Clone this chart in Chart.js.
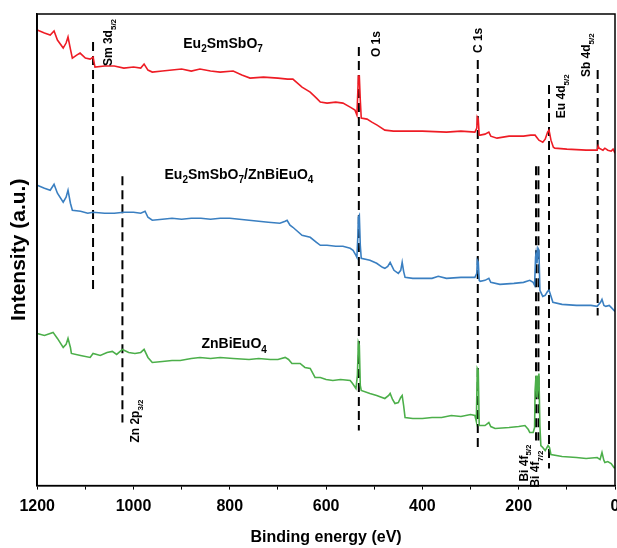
<!DOCTYPE html>
<html>
<head>
<meta charset="utf-8">
<script src="https://cdn.jsdelivr.net/npm/chart.js@4.4.0/dist/chart.umd.min.js"></script>
<style>
  html, body { margin: 0; padding: 0; background: #fff; overflow: hidden; }
</style>
</head>
<body>
<canvas id="xps" width="632" height="548"></canvas>
<script>
// survey spectra, binding energy (eV) against intensity (a.u., stacked offsets)
const redEnergy = [1200,1185,1173,1165,1158,1146,1140,1136,1131,1127,1118,1111,1100,1090,1084,1080,1060,1040,1020,1000,985,978,970,961,940,920,900,880,862,840,820,793,775,758,730,700,680,669,650,633,620,612,598,580,565,550,540,536,534,533,531,529,527,515,505,494,478,460,440,400,350,320,291,287,286,284,282,280,270,262,258,245,220,190,175,166,158,150,145,140,137,133,128,125,100,60,37,35,33,25,21,15,8,4,0];
const redIntensity = [455,452,450,454,445,437,442,448,436,427,430,432,427,426,428,418,419,419,417,418,417,421,415,413,414,415,416,414,416,414,413,414,410,407,408,407,406,406,398,393,387,383,382,383,382,378,375,370,395,409,409,385,367,366,363,360,355,354,354,354,353,354,353,357,368,366,350,350,351,353,349,347,349,349,350,350,345,343,346,353,355,345,338,337,336,335,335,339,337,335,337,335,334,336,332];

const blueEnergy = [1200,1185,1173,1165,1158,1146,1140,1136,1131,1127,1110,1095,1084,1060,1040,1020,1000,985,976,970,961,940,920,900,880,860,840,820,800,780,760,740,720,696,685,681,675,669,650,633,620,612,598,580,565,550,544,538,536,534,533,531,529,527,509,495,483,478,472,467,463,459,450,445,442,439,436,420,400,380,367,350,320,291,287,286,284,282,280,270,262,258,239,210,190,177,170,167,165,164,162,160,158,156,150,145,140,137,133,129,110,80,50,37,30,27,23,19,12,8,0];
const blueIntensity = [300,297,295,301,292,283,288,295,282,275,274,272,273,272,272,273,273,272,274,268,265,266,267,266,267,267,266,267,267,266,265,264,263,262,264,265,260,258,250,248,243,240,240,239,239,237,235,230,228,250,268,270,240,227,225,222,218,217,219,223,219,215,212,215,223,214,208,207,207,207,209,207,208,208,212,225,223,205,204,205,207,203,201,202,203,205,203,200,228,232,222,237,235,195,189,190,194,195,189,183,181,180,180,179,183,186,180,179,180,178,174];

const greenEnergy = [1200,1185,1167,1158,1146,1140,1136,1131,1129,1110,1090,1084,1069,1055,1044,1035,1023,1010,997,985,978,970,961,940,920,903,880,862,840,820,793,760,740,716,700,685,678,671,654,644,633,623,612,600,586,570,550,545,538,535,533,531,529,527,509,495,478,470,467,462,457,450,445,442,439,436,420,400,380,360,340,320,300,291,288,286,284,282,270,262,258,249,220,200,187,180,177,170,167,166,164,162,160,158,156,154,150,145,139,136,133,110,80,60,37,31,27,23,21,15,8,2,0];
const greenIntensity = [152,150,153,147,138,141,147,138,132,130,128,132,130,133,134,131,136,133,132,133,136,128,123,124,125,125,127,128,127,128,127,126,127,126,126,128,126,122,122,118,117,108,108,106,105,106,105,102,97,110,143,140,100,95,92,90,87,90,92,86,82,83,88,90,80,68,67,67,68,68,70,69,71,70,64,117,115,60,60,63,59,57,58,59,60,56,53,53,58,95,110,88,100,112,60,40,38,35,40,38,31,29,28,27,28,26,33,25,23,24,22,18,18];

// reference lines for the assigned core levels
const markerEnergy = [1084, 1023, 532, 285, 164, 159, 137, 36];
const markerTop    = [443, 309, 438, 425, 319, 319, 400, 415];
const markerBottom = [195, 63, 55, 38, 45, 45, 17, 170];

const seriesColors = ['#ee1c25', '#3a7fc1', '#4caf4a'];
const xTickLabels = [1200, 1000, 800, 600, 400, 200, 0];

// text placed in data coordinates: [text, energy, intensity]
const peakLabels = [
  ['Sm 3d_{5/2}', 1044, 419],
  ['O 1s', 488, 428],
  ['C 1s', 276, 432],
  ['Eu 4d_{5/2}', 104, 367],
  ['Sb 4d_{5/2}', 52, 408],
  ['Zn 2p_{3/2}', 988, 43],
  ['Bi 4f_{5/2}', 181, 4],
  ['Bi 4f_{7/2}', 158, -2]
];
const sampleLabels = [
  ['Eu_{2}SmSbO_{7}', 814, 437],
  ['Eu_{2}SmSbO_{7}/ZnBiEuO_{4}', 781, 306],
  ['ZnBiEuO_{4}', 791, 137]
];

const FONT = 'Arial, "Liberation Sans", sans-serif';

function toPoints(xs, ys) {
  return xs.map((v, i) => ({ x: v, y: ys[i] }));
}

function splitRich(text) {
  const parts = [];
  const re = /_\{([^}]*)\}/g;
  let last = 0, m;
  while ((m = re.exec(text)) !== null) {
    if (m.index > last) parts.push([text.slice(last, m.index), false]);
    parts.push([m[1], true]);
    last = re.lastIndex;
  }
  if (last < text.length) parts.push([text.slice(last), false]);
  return parts;
}

function richWidth(ctx, parts, size) {
  let w = 0;
  parts.forEach(([t, sub]) => {
    ctx.font = 'bold ' + (sub ? Math.round(size * 0.7) : size) + 'px ' + FONT;
    w += ctx.measureText(t).width;
  });
  return w;
}

function drawRich(ctx, parts, x0, size) {
  let x = x0;
  parts.forEach(([t, sub]) => {
    ctx.font = 'bold ' + (sub ? Math.round(size * 0.7) : size) + 'px ' + FONT;
    ctx.fillText(t, x, sub ? size * 0.3 : 0);
    x += ctx.measureText(t).width;
  });
}

const xpsText = {
  id: 'xpsText',
  afterDraw(chart) {
    const { ctx, chartArea, scales } = chart;
    ctx.save();
    ctx.strokeStyle = '#000';
    ctx.lineWidth = 1.5;
    ctx.strokeRect(chartArea.left, chartArea.top, chartArea.right - chartArea.left, chartArea.bottom - chartArea.top);

    ctx.fillStyle = '#000';
    ctx.textAlign = 'left';
    ctx.textBaseline = 'alphabetic';

    peakLabels.forEach(([t, e, v]) => {
      const parts = splitRich(t);
      ctx.save();
      ctx.translate(scales.x.getPixelForValue(e), scales.y.getPixelForValue(v));
      ctx.rotate(-Math.PI / 2);
      drawRich(ctx, parts, 0, 12);
      ctx.restore();
    });

    sampleLabels.forEach(([t, e, v]) => {
      const parts = splitRich(t);
      const w = richWidth(ctx, parts, 14);
      ctx.save();
      ctx.translate(scales.x.getPixelForValue(e) - w / 2, scales.y.getPixelForValue(v));
      drawRich(ctx, parts, 0, 14);
      ctx.restore();
    });
    ctx.restore();
  }
};

const spectra = [
  toPoints(redEnergy, redIntensity),
  toPoints(blueEnergy, blueIntensity),
  toPoints(greenEnergy, greenIntensity)
].map((pts, i) => ({
  data: pts,
  borderColor: seriesColors[i],
  borderWidth: 1.6,
  pointRadius: 0,
  tension: 0
}));

const markerSets = markerEnergy.map((e, i) => ({
  data: [{ x: e, y: markerTop[i] }, { x: e, y: markerBottom[i] }],
  borderColor: '#000',
  borderWidth: 2,
  borderDash: [9, 5],
  pointRadius: 0
}));

new Chart(document.getElementById('xps'), {
  type: 'line',
  // spectra first so they are painted over the dashed markers
  data: { datasets: spectra.concat(markerSets) },
  options: {
    responsive: false,
    animation: false,
    layout: { padding: { top: 14, right: 17, left: 4, bottom: 1 } },
    plugins: { legend: { display: false }, tooltip: { enabled: false } },
    scales: {
      x: {
        type: 'linear',
        reverse: true,
        min: 0,
        max: 1200,
        border: { color: '#000', width: 1.5 },
        grid: { drawOnChartArea: false, tickLength: 4, color: '#000', lineWidth: 1 },
        ticks: {
          stepSize: 100,
          padding: 7,
          color: '#000',
          maxRotation: 0,
          font: { family: FONT, size: 16, weight: 'bold' },
          callback: v => (xTickLabels.includes(v) ? String(v) : '')
        },
        title: {
          display: true,
          text: 'Binding energy (eV)',
          color: '#000',
          font: { family: FONT, size: 16, weight: 'bold' },
          padding: { top: 5, bottom: 0 }
        }
      },
      y: {
        min: 0,
        max: 471,
        border: { color: '#000', width: 1.5 },
        grid: { display: false, drawTicks: false },
        ticks: { display: false },
        title: {
          display: true,
          text: 'Intensity (a.u.)',
          color: '#000',
          font: { family: FONT, size: 21, weight: 'bold' },
          padding: { top: 3, bottom: 5 }
        }
      }
    }
  },
  plugins: [xpsText]
});
</script>
</body>
</html>
